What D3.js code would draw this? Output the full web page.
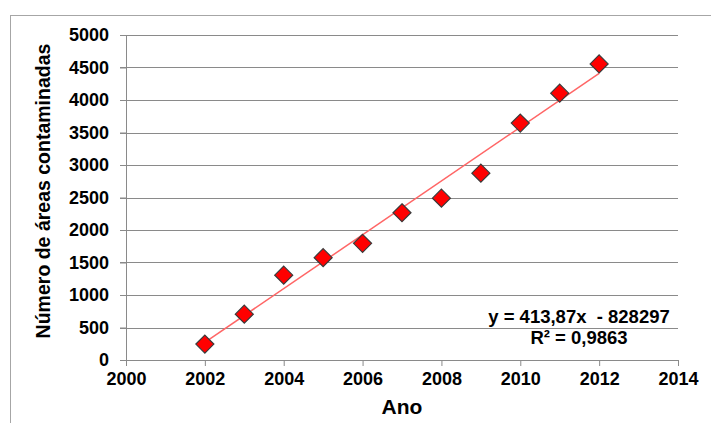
<!DOCTYPE html>
<html>
<head>
<meta charset="utf-8">
<script src="https://cdn.jsdelivr.net/npm/d3@7"></script>
<style>
  body { margin: 0; background: #fff; }
  svg { display: block; font-family: "Liberation Sans", Arial, sans-serif; }
</style>
</head>
<body>
<svg id="drawing_region"></svg>
<script>
// data
const years  = [2002, 2003, 2004, 2005, 2006, 2007, 2008, 2009, 2010, 2011, 2012];
const areas  = [245, 705, 1305, 1575, 1795, 2265, 2490, 2875, 3645, 4105, 4555];
const xTicks = [2000, 2002, 2004, 2006, 2008, 2010, 2012, 2014];
const yTicks = [0, 500, 1000, 1500, 2000, 2500, 3000, 3500, 4000, 4500, 5000];
const slope = 413.87;
const intercept = -828297;
const eqLines = ['y = 413,87x  - 828297', 'R² = 0,9863'];

const width  = 711;
const height = 423;
const margin = { top: 35, right: 33, bottom: 62, left: 126 };

const svg = d3.select('#drawing_region')
    .attr('width', width)
    .attr('height', height);

// outer chart frame
svg.append('rect')
    .attr('x', 10.5).attr('y', 15.5)
    .attr('width', 760).attr('height', 460)
    .attr('fill', 'none')
    .attr('stroke', '#a6a6a6');

const chart = svg.append('g')
    .attr('transform', `translate(${margin.left}, ${margin.top})`);

const inner_width  = width  - margin.left - margin.right;
const inner_height = height - margin.top  - margin.bottom - 1;

const xscale = d3.scaleLinear()
    .domain([2000, 2014])
    .range([0, inner_width]);

const yscale = d3.scaleLinear()
    .domain([0, 5000])
    .range([inner_height, 0]);

// gridlines
chart.append('g')
    .selectAll('line')
    .data(yTicks.slice(1))
    .enter()
    .append('line')
    .attr('x1', -6)
    .attr('x2', inner_width)
    .attr('y1', d => Math.round(yscale(d)) + 0.5)
    .attr('y2', d => Math.round(yscale(d)) + 0.5)
    .attr('stroke', '#8a8a8a')
    .attr('stroke-width', 1);

// y axis
const yAxis = chart.append('g')
    .call(d3.axisLeft(yscale).tickValues(yTicks).tickFormat(d3.format('d'))
        .tickSize(6).tickPadding(11).tickSizeOuter(0));

// x axis
const xAxis = chart.append('g')
    .attr('transform', `translate(0, ${inner_height})`)
    .call(d3.axisBottom(xscale).tickValues(xTicks).tickFormat(d3.format('d'))
        .tickSize(6).tickPadding(6).tickSizeOuter(0));

[xAxis, yAxis].forEach(ax => {
    ax.select('.domain').attr('stroke', '#8a8a8a');
    ax.selectAll('.tick line').attr('stroke', '#8a8a8a');
    ax.selectAll('.tick text')
        .attr('fill', '#000')
        .attr('font-size', '18px')
        .attr('font-weight', 'bold')
        .attr('font-family', '"Liberation Sans", Arial, sans-serif');
});

// trend line
chart.append('line')
    .attr('x1', xscale(years[0]))
    .attr('x2', xscale(years[years.length - 1]))
    .attr('y1', yscale(slope * years[0] + intercept))
    .attr('y2', yscale(slope * years[years.length - 1] + intercept))
    .attr('stroke', '#ff6666')
    .attr('stroke-width', 1.5);

// diamond markers
chart.selectAll('path.pt')
    .data(years)
    .enter()
    .append('path')
    .attr('class', 'pt')
    .attr('d', 'M0,-9 L9,0 L0,9 L-9,0 Z')
    .attr('transform', (d, i) => `translate(${xscale(d)}, ${yscale(areas[i])})`)
    .attr('fill', '#ff0000')
    .attr('stroke', '#3a3a3a')
    .attr('stroke-width', 1.2);

// equation
chart.append('text')
    .attr('x', 453)
    .attr('y', 288)
    .attr('text-anchor', 'middle')
    .attr('font-size', '18.5px')
    .attr('font-weight', 'bold')
    .selectAll('tspan')
    .data(eqLines)
    .enter()
    .append('tspan')
    .attr('x', 453)
    .attr('dy', (d, i) => i === 0 ? 0 : 20.5)
    .attr('xml:space', 'preserve')
    .style('white-space', 'pre')
    .text(d => d);

// axis titles
svg.append('text')
    .attr('x', margin.left + inner_width / 2)
    .attr('y', 414)
    .attr('text-anchor', 'middle')
    .attr('font-size', '21px')
    .attr('font-weight', 'bold')
    .text('Ano');

svg.append('text')
    .attr('transform', 'rotate(-90)')
    .attr('x', -191)
    .attr('y', 50)
    .attr('text-anchor', 'middle')
    .attr('font-size', '19.5px')
    .attr('font-weight', 'bold')
    .text('Número de áreas contaminadas');
</script>
</body>
</html>
